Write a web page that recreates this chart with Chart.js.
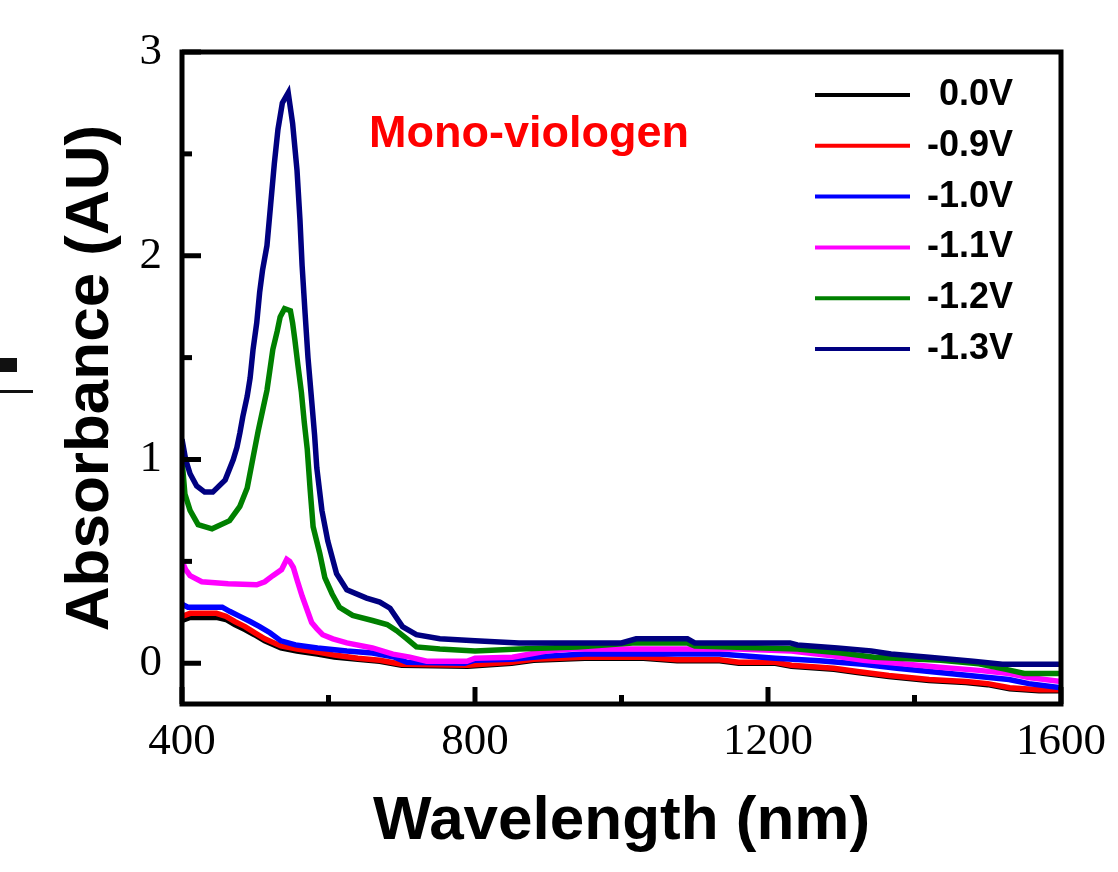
<!DOCTYPE html>
<html>
<head>
<meta charset="utf-8">
<title>Mono-viologen absorbance</title>
<script src="https://cdn.jsdelivr.net/npm/chart.js@4.4.1/dist/chart.umd.min.js"></script>
<style>
  html, body { margin: 0; padding: 0; background: #fff; }
  #chart { display: block; }
</style>
</head>
<body>
<canvas id="chart" width="1118" height="872"></canvas>
<script>
// Spectra (wavelength in nm, absorbance in AU)
const nmLow = [400,411,447,460,472,486,499,513,535,557,585,608,640,670,700,790,850,880,950,1030,1076,1134,1160,1210,1232,1290,1322,1365,1420,1470,1500,1530,1570,1600];
const abs00 = [0.21,0.225,0.225,0.215,0.19,0.165,0.14,0.11,0.075,0.06,0.045,0.03,0.02,0.01,-0.01,-0.015,0.0,0.015,0.025,0.025,0.012,0.012,0.0,0.0,-0.015,-0.03,-0.045,-0.065,-0.085,-0.095,-0.105,-0.125,-0.135,-0.135];
const abs09 = [0.23,0.245,0.245,0.23,0.205,0.18,0.15,0.12,0.085,0.07,0.055,0.04,0.025,0.015,-0.005,-0.01,0.005,0.02,0.03,0.03,0.017,0.017,0.005,0.005,-0.01,-0.025,-0.04,-0.06,-0.08,-0.09,-0.10,-0.12,-0.13,-0.13];

const nm10 = [400,408,455,465,479,493,506,520,535,555,585,625,660,690,707,786,800,850,898,950,1134,1210,1270,1330,1376,1434,1488,1529,1556,1600];
const abs10 = [0.29,0.275,0.275,0.255,0.23,0.205,0.18,0.15,0.11,0.09,0.075,0.06,0.05,0.03,0.005,0.0,0.015,0.02,0.035,0.045,0.045,0.025,0.012,-0.005,-0.025,-0.045,-0.065,-0.08,-0.1,-0.12];

const nm11 = [400,405,411,427,463,502,513,524,536,543,547,552,557,564,570,577,584,592,606,625,660,688,711,734,789,800,851,898,932,1158,1232,1290,1330,1376,1434,1488,1529,1556,1600];
const abs11 = [0.50,0.46,0.43,0.40,0.39,0.385,0.40,0.43,0.46,0.51,0.50,0.47,0.41,0.33,0.27,0.20,0.17,0.14,0.12,0.10,0.075,0.045,0.03,0.01,0.01,0.025,0.03,0.06,0.07,0.07,0.06,0.035,0.015,0.0,-0.02,-0.035,-0.05,-0.07,-0.09];

const nm12 = [400,404,411,422,441,465,479,489,497,504,510,516,520,524,530,534,540,548,551,554,558,563,567,571,575,579,588,595,605,615,633,660,680,693,707,720,752,800,860,940,1020,1090,1100,1240,1300,1345,1436,1488,1525,1550,1600];
const abs12 = [1.00,0.83,0.75,0.68,0.66,0.70,0.77,0.86,1.01,1.14,1.24,1.34,1.44,1.54,1.63,1.70,1.74,1.73,1.67,1.59,1.47,1.33,1.18,1.05,0.85,0.67,0.54,0.42,0.34,0.275,0.235,0.21,0.19,0.16,0.12,0.08,0.07,0.06,0.07,0.08,0.10,0.10,0.085,0.07,0.05,0.03,0.015,-0.003,-0.03,-0.05,-0.05];

const nm13 = [400,405,411,420,431,442,459,470,475,479,483,489,493,497,502,506,510,516,521,526,531,537,545,551,557,561,564,568,572,577,581,584,591,599,611,625,652,670,684,701,720,752,800,860,1000,1020,1090,1100,1230,1240,1295,1341,1368,1420,1480,1520,1600];
const abs13 = [1.10,1.00,0.93,0.87,0.84,0.84,0.90,1.00,1.06,1.13,1.21,1.31,1.40,1.54,1.67,1.82,1.93,2.05,2.25,2.45,2.62,2.75,2.80,2.65,2.42,2.18,1.95,1.72,1.50,1.29,1.12,0.96,0.75,0.60,0.44,0.36,0.32,0.30,0.27,0.18,0.14,0.12,0.11,0.10,0.10,0.12,0.12,0.10,0.10,0.09,0.075,0.06,0.045,0.03,0.01,-0.005,-0.005];

const seriesLabels = ['0.0V', '-0.9V', '-1.0V', '-1.1V', '-1.2V', '-1.3V'];
const seriesColors = ['#000000', '#ff0000', '#0000ff', '#ff00ff', '#008000', '#000080'];
const seriesX = [nmLow, nmLow, nm10, nm11, nm12, nm13];
const seriesY = [abs00, abs09, abs10, abs11, abs12, abs13];

const xTicks = [400, 800, 1200, 1600];
const xMinor = [600, 1000, 1400];
const yTicks = [0, 1, 2, 3];
const yMinor = [0.5, 1.5, 2.5];

const toPoints = (xs, ys) => xs.map((x, i) => ({ x: x, y: ys[i] }));

// frame, inward ticks, legend and the label text
const decorations = {
    id: 'decorations',
    afterDatasetsDraw(chart) {
        const { ctx, chartArea: a, scales: { x, y } } = chart;
        ctx.save();
        ctx.strokeStyle = '#000';
        ctx.lineWidth = 5;
        ctx.strokeRect(a.left, a.top, a.right - a.left, a.bottom - a.top);

        const seg = (x1, y1, x2, y2) => {
            ctx.beginPath();
            ctx.moveTo(x1, y1);
            ctx.lineTo(x2, y2);
            ctx.stroke();
        };
        xTicks.forEach(v => { const p = x.getPixelForValue(v); seg(p, a.bottom, p, a.bottom - 17); });
        xMinor.forEach(v => { const p = x.getPixelForValue(v); seg(p, a.bottom, p, a.bottom - 9); });
        yTicks.forEach(v => { const p = y.getPixelForValue(v); seg(a.left, p, a.left + 19, p); });
        yMinor.forEach(v => { const p = y.getPixelForValue(v); seg(a.left, p, a.left + 10, p); });
        ctx.restore();
    },
    afterDraw(chart) {
        const ctx = chart.ctx;
        ctx.save();

        // legend
        ctx.font = 'bold 36px "Liberation Sans", Arial, sans-serif';
        ctx.textAlign = 'right';
        ctx.textBaseline = 'middle';
        ctx.lineWidth = 4;
        seriesLabels.forEach((label, i) => {
            const ly = 95 + i * 50.8;
            ctx.strokeStyle = seriesColors[i];
            ctx.beginPath();
            ctx.moveTo(815, ly);
            ctx.lineTo(910, ly);
            ctx.stroke();
            ctx.fillStyle = '#000';
            ctx.fillText(label, 1013, ly);
        });

        // sample name
        ctx.font = 'bold 45px "Liberation Sans", Arial, sans-serif';
        ctx.fillStyle = '#ff0000';
        ctx.textAlign = 'left';
        ctx.textBaseline = 'alphabetic';
        ctx.fillText('Mono-viologen', 369, 147);

        // cropped mark at the left edge of the original figure
        ctx.fillStyle = '#111';
        ctx.fillRect(0, 358, 17, 14);
        ctx.fillRect(0, 390, 33, 3);
        ctx.restore();
    }
};

Chart.defaults.font.family = '"Liberation Serif", "Times New Roman", serif';
Chart.defaults.color = '#000';

new Chart(document.getElementById('chart'), {
    type: 'line',
    data: {
        datasets: seriesLabels.map((label, i) => ({
            label: label,
            data: toPoints(seriesX[i], seriesY[i]),
            borderColor: seriesColors[i],
            backgroundColor: seriesColors[i],
            borderWidth: 5.5,
            pointRadius: 0,
            tension: 0,
            fill: false,
            order: seriesLabels.length - i
        }))
    },
    options: {
        responsive: false,
        animation: false,
        devicePixelRatio: 1,
        layout: { padding: { left: 0, top: 52, right: 57, bottom: 0 } },
        plugins: {
            legend: { display: false },
            tooltip: { enabled: false }
        },
        scales: {
            x: {
                type: 'linear',
                min: 400,
                max: 1600,
                afterBuildTicks: s => { s.ticks = xTicks.map(v => ({ value: v })); },
                afterFit: s => { s.height = 168; },
                grid: { display: false, drawTicks: false },
                border: { display: false },
                ticks: {
                    font: { size: 45 },
                    color: '#000',
                    padding: 11,
                    maxRotation: 0,
                    autoSkip: false,
                    callback: v => String(v)
                },
                title: {
                    display: true,
                    text: 'Wavelength (nm)',
                    color: '#000',
                    font: { family: '"Liberation Sans", Arial, sans-serif', size: 62, weight: 'bold', lineHeight: 1.2 },
                    padding: { top: 0, bottom: 13 }
                }
            },
            y: {
                min: -0.2,
                max: 3,
                afterBuildTicks: s => { s.ticks = yTicks.map(v => ({ value: v })); },
                afterFit: s => { s.width = 182; },
                grid: { display: false, drawTicks: false },
                border: { display: false },
                ticks: {
                    font: { size: 45 },
                    color: '#000',
                    padding: 20,
                    callback: v => String(v)
                },
                title: {
                    display: true,
                    text: 'Absorbance (AU)',
                    color: '#000',
                    font: { family: '"Liberation Sans", Arial, sans-serif', size: 62, weight: 'bold', lineHeight: 1.2 },
                    padding: { top: 54, bottom: 0 }
                }
            }
        }
    },
    plugins: [decorations]
});
</script>
</body>
</html>
